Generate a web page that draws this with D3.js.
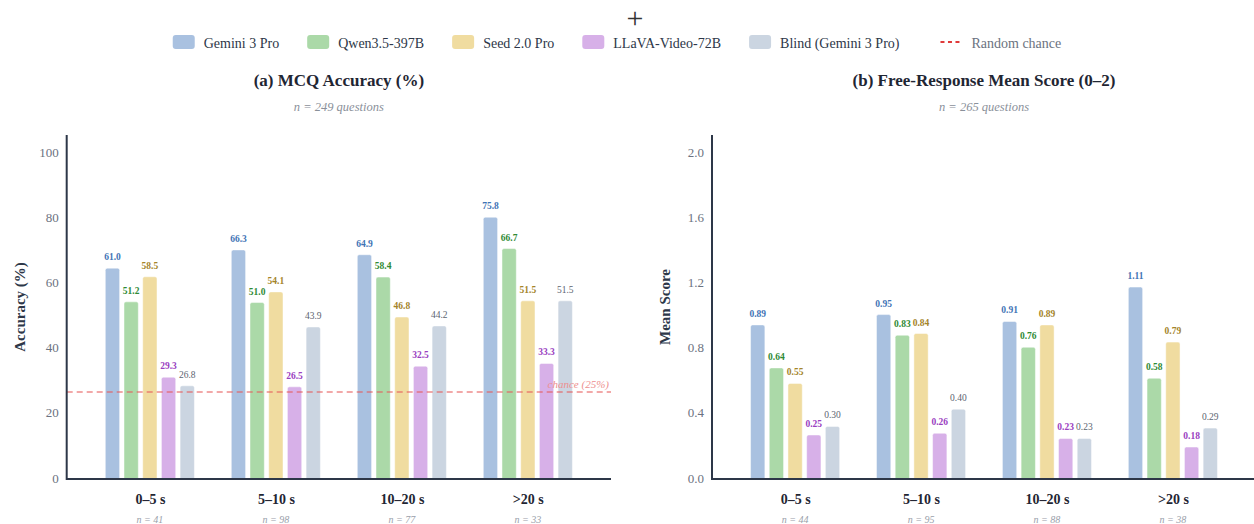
<!DOCTYPE html>
<html>
<head>
<meta charset="utf-8">
<script src="https://cdn.jsdelivr.net/npm/d3@7"></script>
<style>
    body { margin: 0; background: #ffffff; }
    svg { display: block; font-family: "Liberation Serif", "DejaVu Serif", serif; }
</style>
</head>
<body>
<div id="chart"></div>
<script>
// Duration buckets and model names
const categories = ['0–5 s', '5–10 s', '10–20 s', '>20 s'];
const mcqCounts = [41, 98, 77, 33];
const freeCounts = [44, 95, 88, 38];
const models = ['Gemini 3 Pro', 'Qwen3.5-397B', 'Seed 2.0 Pro', 'LLaVA-Video-72B', 'Blind (Gemini 3 Pro)'];

// MCQ accuracy (%) per model, one value per bucket
const mcqGemini = [61.0, 66.3, 64.9, 75.8];
const mcqQwen = [51.2, 51.0, 58.4, 66.7];
const mcqSeed = [58.5, 54.1, 46.8, 51.5];
const mcqLlava = [29.3, 26.5, 32.5, 33.3];
const mcqBlind = [26.8, 43.9, 44.2, 51.5];

// Free-response mean score (0-2) per model
const freeGemini = [0.89, 0.95, 0.91, 1.11];
const freeQwen = [0.64, 0.83, 0.76, 0.58];
const freeSeed = [0.55, 0.84, 0.89, 0.79];
const freeLlava = [0.25, 0.26, 0.23, 0.18];
const freeBlind = [0.30, 0.40, 0.23, 0.29];

const mcqTicks = [0, 20, 40, 60, 80, 100];
const freeTicks = [0, 0.4, 0.8, 1.2, 1.6, 2.0];
const chanceLevel = 25;

const fillColors = ['#a9c1e0', '#abd9a8', '#f0dca0', '#d7b0e8', '#cbd5e1'];
const labelColors = ['#3f74b5', '#2f8a35', '#a4842a', '#9a40bf', '#5c6470'];

const FONT = '"Liberation Serif", "DejaVu Serif", serif';

class DurationChart {
    constructor() {
        this.width = 1254;
        this.height = 524;
        this.svg = d3.select('#chart')
            .append('svg')
            .attr('width', this.width)
            .attr('height', this.height);
        this.init();
    }

    init() {
        this.drawLegend();
        this.drawPanel({
            left: 66.7, right: 611,
            title: '(a) MCQ Accuracy (%)',
            subtitle: 'n = 249 questions',
            yTitle: 'Accuracy (%)',
            yMax: 100,
            ticks: mcqTicks,
            tickFormat: d => d3.format('d')(d),
            valueFormat: d => d.toFixed(1),
            series: [mcqGemini, mcqQwen, mcqSeed, mcqLlava, mcqBlind],
            counts: mcqCounts,
            chance: chanceLevel
        });
        this.drawPanel({
            left: 712, right: 1256,
            title: '(b) Free-Response Mean Score (0–2)',
            subtitle: 'n = 265 questions',
            yTitle: 'Mean Score',
            yMax: 2,
            ticks: freeTicks,
            tickFormat: d => d.toFixed(1),
            valueFormat: d => d.toFixed(2),
            series: [freeGemini, freeQwen, freeSeed, freeLlava, freeBlind],
            counts: freeCounts,
            chance: null
        });
    }

    drawLegend() {
        // stray plus mark at top centre
        this.svg.append('text')
            .attr('x', 635)
            .attr('y', 28)
            .attr('text-anchor', 'middle')
            .attr('font-size', 30)
            .attr('fill', '#333333')
            .text('+');

        const legend = this.svg.append('g');
        let x = 0;
        const items = models.map((m, i) => ({ label: m, color: fillColors[i], type: 'box' }));
        items.push({ label: 'Random chance', color: '#e03a3a', type: 'dash' });

        items.forEach((item, i) => {
            const g = legend.append('g').attr('transform', `translate(${x}, 0)`);
            if (item.type === 'box') {
                g.append('rect')
                    .attr('x', 0).attr('y', 35)
                    .attr('width', 22).attr('height', 14)
                    .attr('rx', 3)
                    .attr('fill', item.color);
            } else {
                g.append('line')
                    .attr('x1', 0).attr('x2', 22)
                    .attr('y1', 42).attr('y2', 42)
                    .attr('stroke', item.color)
                    .attr('stroke-width', 2)
                    .attr('stroke-dasharray', '4,3.5');
            }
            const t = g.append('text')
                .attr('x', 31)
                .attr('y', 48)
                .attr('font-size', 14)
                .attr('fill', item.type === 'box' ? '#2d3748' : '#6b7280')
                .text(item.label);
            const w = t.node().getComputedTextLength();
            x += 31 + w + (i === items.length - 2 ? 41 : 28);
        });
        const total = x - 28;
        legend.attr('transform', `translate(${617 - total / 2}, 0)`);
    }

    drawPanel(cfg) {
        const svg = this.svg;
        const baseline = 478;
        const center = (cfg.left + cfg.right) / 2;

        const x = d3.scalePoint()
            .domain(categories)
            .range([cfg.left, cfg.right])
            .padding(0.66);

        const inner = d3.scaleBand()
            .domain(models)
            .range([-46.75, 46.75])
            .paddingInner(0.235)
            .paddingOuter(0.1175);

        // bars use this scale
        const y = d3.scaleLinear()
            .domain([0, cfg.yMax])
            .range([baseline, 134]);

        // tick labels sit on a slightly shorter span
        const yTick = d3.scaleLinear()
            .domain([0, cfg.yMax])
            .range([baseline, 152]);

        // Titles
        svg.append('text')
            .attr('x', center).attr('y', 86)
            .attr('text-anchor', 'middle')
            .attr('font-size', 17)
            .attr('font-weight', 'bold')
            .attr('fill', '#1f2633')
            .text(cfg.title);

        svg.append('text')
            .attr('x', center).attr('y', 111)
            .attr('text-anchor', 'middle')
            .attr('font-size', 12.5)
            .attr('font-style', 'italic')
            .attr('fill', '#8a909a')
            .text(cfg.subtitle);

        // Y axis labels
        const yAxis = svg.append('g')
            .attr('transform', `translate(${cfg.left}, 0)`)
            .call(d3.axisLeft(yTick).tickValues(cfg.ticks).tickFormat(cfg.tickFormat).tickSize(0).tickPadding(8));
        yAxis.attr('font-family', FONT);
        yAxis.select('.domain').remove();
        yAxis.selectAll('text')
            .attr('font-size', 13)
            .attr('fill', '#6b7280');

        svg.append('text')
            .attr('transform', `translate(${cfg.left - 42}, ${(135 + 479) / 2}) rotate(-90)`)
            .attr('text-anchor', 'middle')
            .attr('font-size', 15)
            .attr('font-weight', 'bold')
            .attr('fill', '#2d3748')
            .text(cfg.yTitle);

        // Bars
        const rows = [];
        cfg.series.forEach((values, mi) => {
            values.forEach((v, ci) => {
                rows.push({ model: models[mi], mi: mi, cat: categories[ci], value: v });
            });
        });

        const bars = svg.append('g');
        bars.selectAll('rect')
            .data(rows)
            .enter()
            .append('rect')
            .attr('x', d => x(d.cat) + inner(d.model))
            .attr('y', d => y(d.value))
            .attr('width', inner.bandwidth())
            .attr('height', d => baseline - y(d.value) + 2)
            .attr('rx', 2)
            .attr('fill', d => fillColors[d.mi])
            .attr('stroke', '#ffffff')
            .attr('stroke-opacity', 0.6)
            .attr('stroke-width', 0.8);

        bars.selectAll('text')
            .data(rows)
            .enter()
            .append('text')
            .attr('x', d => x(d.cat) + inner(d.model) + inner.bandwidth() / 2)
            .attr('y', d => y(d.value) - 8)
            .attr('text-anchor', 'middle')
            .attr('font-size', 9.5)
            .attr('font-weight', d => d.mi === 4 ? 'normal' : 'bold')
            .attr('fill', d => labelColors[d.mi])
            .text(d => cfg.valueFormat(d.value));

        // Chance line drawn over the bars
        if (cfg.chance !== null) {
            svg.append('line')
                .attr('x1', cfg.left).attr('x2', cfg.right)
                .attr('y1', y(cfg.chance)).attr('y2', y(cfg.chance))
                .attr('stroke', '#e55a5a')
                .attr('stroke-opacity', 0.7)
                .attr('stroke-width', 1.6)
                .attr('stroke-dasharray', '6,4');
            svg.append('text')
                .attr('x', cfg.right - 2)
                .attr('y', y(cfg.chance) - 4)
                .attr('text-anchor', 'end')
                .attr('font-size', 11)
                .attr('font-style', 'italic')
                .attr('fill', '#ee8f8f')
                .text(`chance (${cfg.chance}%)`);
        }

        // Spines
        svg.append('line')
            .attr('x1', cfg.left).attr('x2', cfg.left)
            .attr('y1', 135).attr('y2', 480)
            .attr('stroke', '#2d3748')
            .attr('stroke-width', 2);
        svg.append('line')
            .attr('x1', cfg.left).attr('x2', cfg.right)
            .attr('y1', 479).attr('y2', 479)
            .attr('stroke', '#2d3748')
            .attr('stroke-width', 2);

        // Category labels
        const xAxis = svg.append('g')
            .attr('transform', `translate(0, 480)`)
            .call(d3.axisBottom(x).tickSize(0).tickPadding(14));
        xAxis.attr('font-family', FONT);
        xAxis.select('.domain').remove();
        xAxis.selectAll('text')
            .attr('font-size', 14)
            .attr('font-weight', 'bold')
            .attr('fill', '#1f2633');

        svg.append('g')
            .selectAll('text')
            .data(categories)
            .enter()
            .append('text')
            .attr('x', d => x(d))
            .attr('y', 523)
            .attr('text-anchor', 'middle')
            .attr('font-size', 10)
            .attr('font-style', 'italic')
            .attr('fill', '#9aa0aa')
            .text((d, i) => `n = ${cfg.counts[i]}`);
    }
}

document.addEventListener('DOMContentLoaded', () => {
    new DurationChart();
});
</script>
</body>
</html>
